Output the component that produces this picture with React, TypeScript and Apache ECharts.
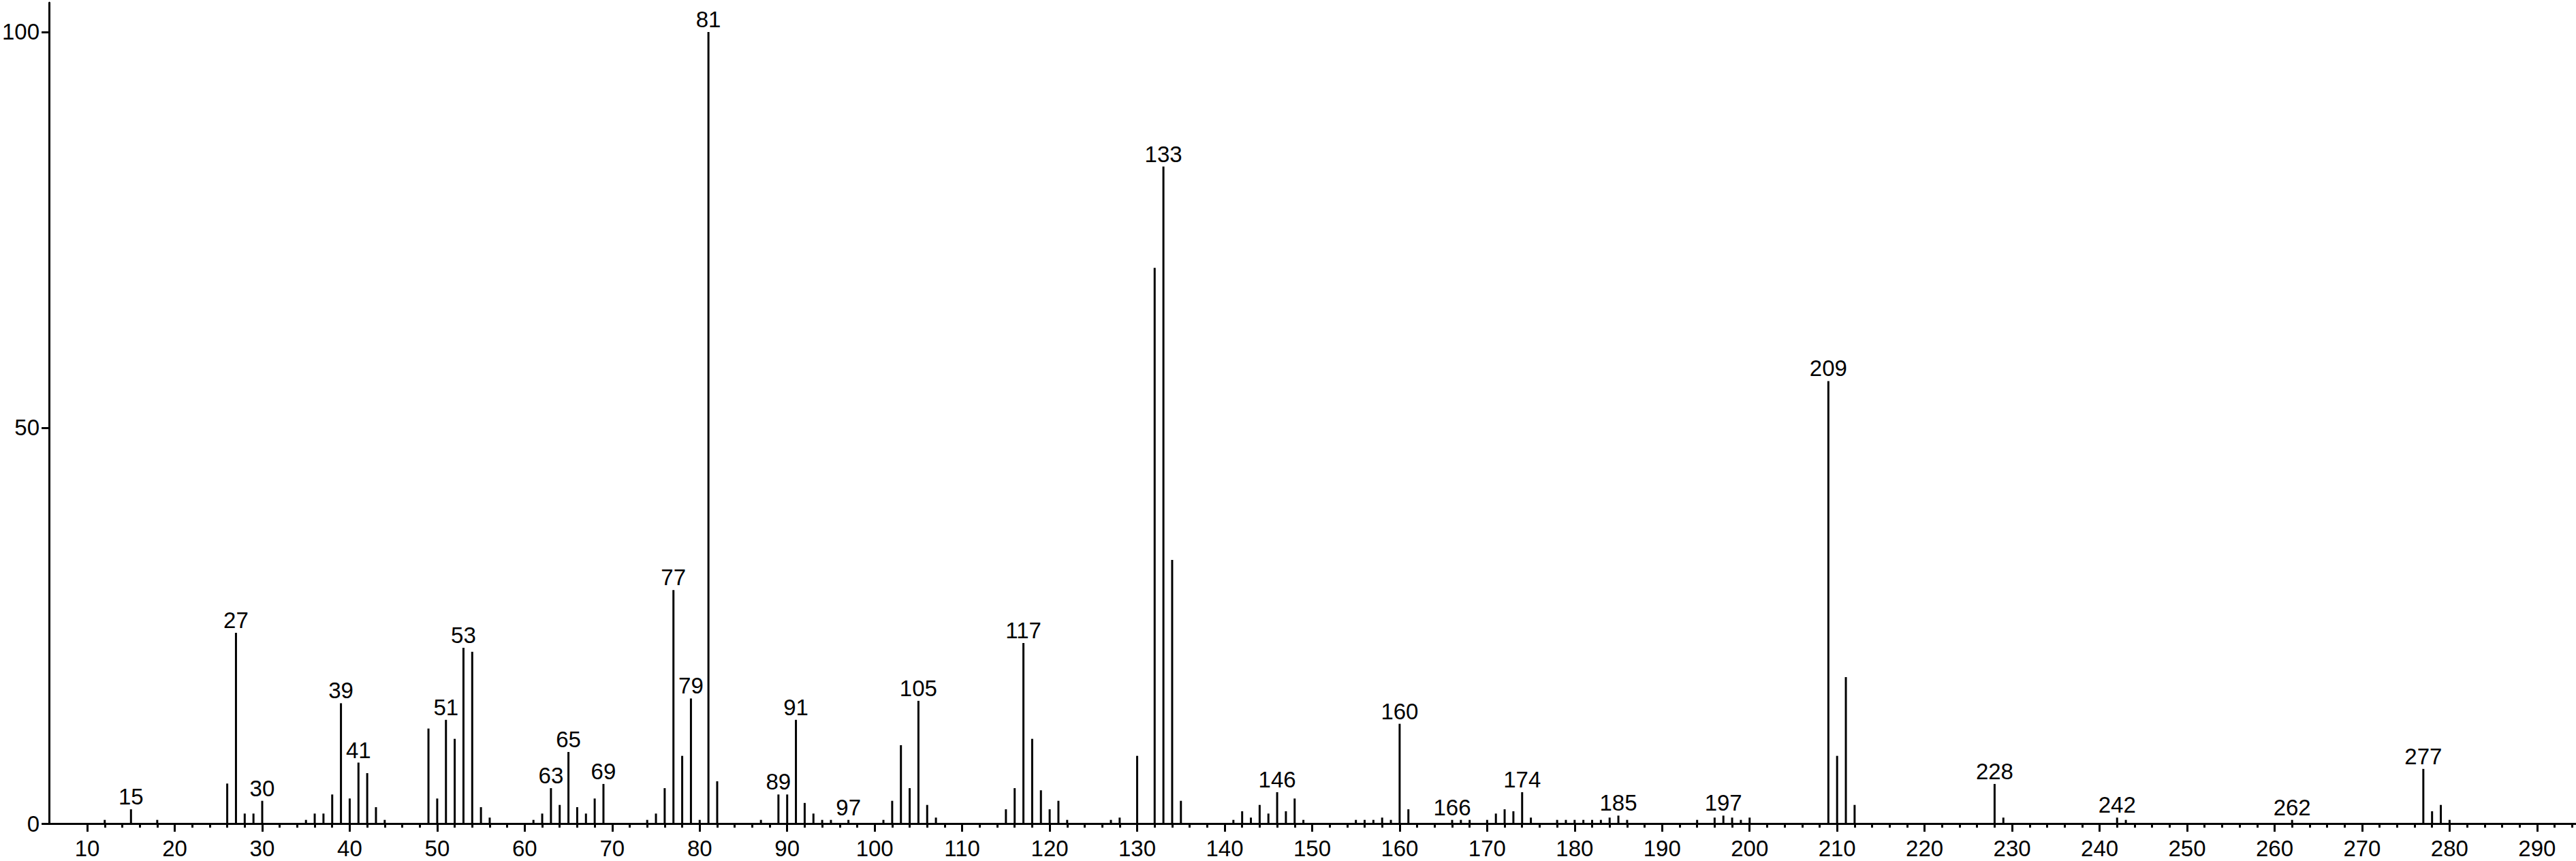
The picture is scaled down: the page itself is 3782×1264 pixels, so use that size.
import React, { useEffect, useRef } from 'react';
import * as echarts from 'echarts';

// m/z values of the peaks
const mzValues = [
  12, 15, 18, 26, 27, 28, 29, 30, 35, 36, 37, 38, 39, 40, 41, 42, 43, 44, 49, 50,
  51, 52, 53, 54, 55, 56, 61, 62, 63, 64, 65, 66, 67, 68, 69, 74, 75, 76, 77, 78,
  79, 80, 81, 82, 87, 89, 90, 91, 92, 93, 94, 95, 97, 101, 102, 103, 104, 105, 106, 107,
  115, 116, 117, 118, 119, 120, 121, 122, 127, 128, 130, 132, 133, 134, 135, 141, 142, 143, 144, 145,
  146, 147, 148, 149, 155, 156, 157, 158, 159, 160, 161, 166, 167, 168, 170, 171, 172, 173, 174, 175,
  178, 179, 180, 181, 182, 183, 184, 185, 186, 194, 196, 197, 198, 199, 200, 209, 210, 211, 212, 228,
  229, 242, 243, 262, 277, 278, 279, 280,
];

// relative intensities (%)
const intensities = [
  0.46, 1.8, 0.46, 5.05, 24.1, 1.26, 1.26, 2.87, 0.46, 1.26, 1.26, 3.67, 15.2, 3.16, 7.7, 6.37, 2.07, 0.46, 12.0, 3.16,
  13.1, 10.7, 22.2, 21.7, 2.07, 0.75, 0.46, 1.26, 4.47, 2.35, 9.04, 2.07, 1.26, 3.16, 5.0, 0.46, 1.26, 4.47, 29.5, 8.55,
  15.8, 0.46, 100, 5.34, 0.46, 3.67, 3.67, 13.1, 2.6, 1.26, 0.46, 0.46, 0.46, 0.46, 2.87, 9.9, 4.47, 15.5, 2.35, 0.75,
  1.8, 4.47, 22.8, 10.7, 4.2, 1.8, 2.87, 0.46, 0.46, 0.75, 8.55, 70.2, 83.0, 33.3, 2.87, 0.46, 1.55, 0.75, 2.35, 1.26,
  3.96, 1.55, 3.16, 0.46, 0.46, 0.46, 0.46, 0.75, 0.46, 12.6, 1.8, 0.46, 0.46, 0.46, 0.46, 1.26, 1.8, 1.55, 3.96, 0.75,
  0.46, 0.46, 0.46, 0.46, 0.46, 0.46, 0.75, 1.0, 0.46, 0.46, 0.75, 1.0, 0.75, 0.46, 0.75, 55.9, 8.55, 18.5, 2.35, 5.0,
  0.75, 0.75, 0.46, 0.46, 6.9, 1.55, 2.35, 0.46,
];

// peaks that carry an m/z label
const labeledPeaks = [
  15, 27, 30, 39, 41, 51, 53, 63, 65, 69, 77, 79, 81, 89, 91, 97, 105, 117, 133, 146,
  160, 166, 174, 185, 197, 209, 228, 242, 262, 277,
];

const xTickLabels = [
  10, 20, 30, 40, 50, 60, 70, 80, 90, 100, 110, 120, 130, 140, 150, 160, 170, 180, 190, 200,
  210, 220, 230, 240, 250, 260, 270, 280, 290,
];

const yTickLabels = [0, 50, 100];

const xMinorTicks: number[] = [];
for (let v = 12; v <= 298; v += 2) {
  if (v % 10 !== 0) xMinorTicks.push(v);
}

const FONT = 'Liberation Sans';
const FONT_SIZE = 33;
const X_MIN = 5.64;
const X_MAX = 294.45;
const Y_MAX = 103.7;

export default function App() {
  const ref = useRef<HTMLDivElement>(null);

  useEffect(() => {
    const chart = echarts.init(ref.current!, null, { renderer: 'svg' });
    const data = mzValues.map((mz, i) => ({
      value: [mz, intensities[i]],
      label: { show: labeledPeaks.includes(mz) },
    }));

    chart.setOption({
      animation: false,
      backgroundColor: '#ffffff',
      grid: { left: 69, right: 0, top: 4, bottom: 55, containLabel: false },
      xAxis: [
        {
          type: 'value',
          min: X_MIN,
          max: X_MAX,
          position: 'bottom',
          axisLine: { show: true, onZero: false, lineStyle: { color: '#000', width: 3 } },
          axisTick: {
            show: true,
            customValues: xTickLabels,
            length: 12,
            lineStyle: { color: '#000', width: 3 },
          },
          axisLabel: {
            show: true,
            customValues: xTickLabels,
            margin: 20,
            fontSize: FONT_SIZE,
            fontFamily: FONT,
            color: '#000',
          },
          splitLine: { show: false },
        },
        {
          type: 'value',
          min: X_MIN,
          max: X_MAX,
          position: 'bottom',
          axisLine: { show: false, onZero: false },
          axisTick: {
            show: true,
            customValues: xMinorTicks,
            length: 6,
            lineStyle: { color: '#000', width: 3 },
          },
          axisLabel: { show: false },
          splitLine: { show: false },
        },
      ],
      yAxis: {
        type: 'value',
        min: 0,
        max: Y_MAX,
        axisLine: { show: true, lineStyle: { color: '#000', width: 3 } },
        axisTick: {
          show: true,
          customValues: yTickLabels,
          length: 11,
          lineStyle: { color: '#000', width: 3 },
        },
        axisLabel: {
          show: true,
          customValues: yTickLabels,
          margin: 14,
          fontSize: FONT_SIZE,
          fontFamily: FONT,
          color: '#000',
          padding: [10, 0, 0, 0],
        },
        splitLine: { show: false },
      },
      series: [
        {
          type: 'bar',
          xAxisIndex: 0,
          yAxisIndex: 0,
          barWidth: 3,
          itemStyle: { color: '#000' },
          label: {
            show: false,
            position: 'top',
            distance: 2,
            fontSize: FONT_SIZE,
            fontFamily: FONT,
            color: '#000',
            formatter: (p: any) => String(p.value[0]),
          },
          emphasis: { disabled: true },
          data,
        },
      ],
    });

    return () => chart.dispose();
  }, []);

  return (
    <div
      ref={ref}
      style={{ position: 'fixed', left: 0, top: 0, width: 3782, height: 1264, background: '#fff' }}
    />
  );
}
